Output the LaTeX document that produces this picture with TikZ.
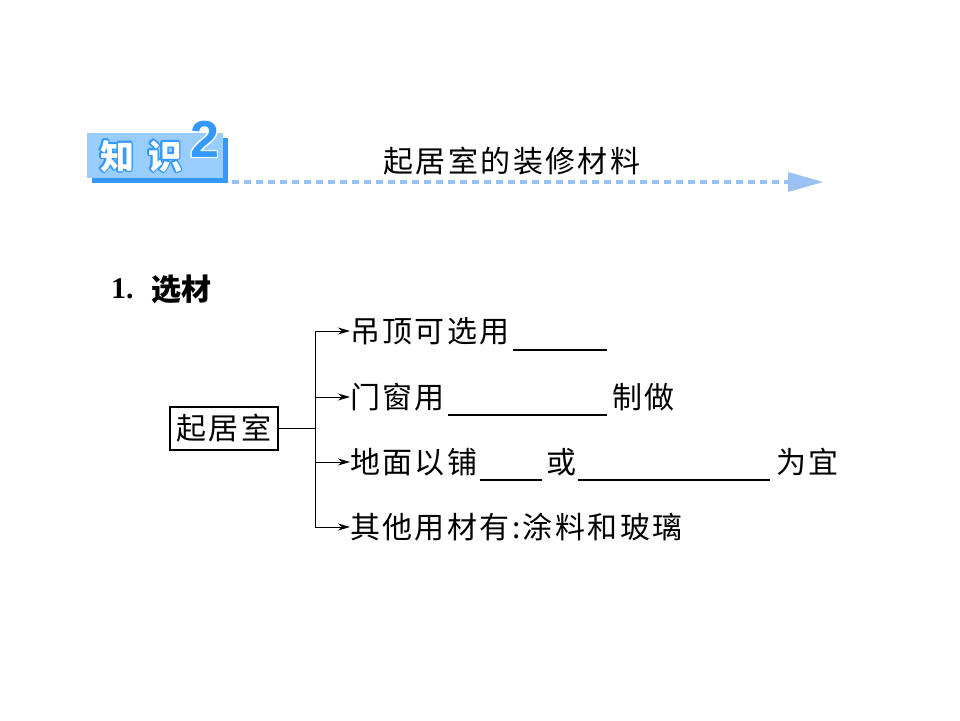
\documentclass[tikz,border=0pt]{standalone}
\usepackage{fontspec}
\setmainfont{Liberation Serif}
\newfontfamily\cjk{Noto Sans CJK SC}
\newfontfamily\cjkr{Noto Sans CJK SC}[LetterSpace=8]
\newfontfamily\numsans{Liberation Sans}
\usepackage{contour}
\usetikzlibrary{arrows.meta}
\definecolor{lb}{HTML}{99CCFF}
\definecolor{db}{HTML}{3399FF}
\definecolor{dashc}{HTML}{99C2F2}
\contourlength{1.4pt}
\begin{document}
\begin{tikzpicture}[x=1pt,y=-1pt,
  rowtext/.style={anchor=west,inner sep=0pt,font=\fontsize{30}{32}\selectfont\cjkr},
  branch/.style={line width=1pt,-{Stealth[length=12pt,width=7pt]}},
  blank/.style={line width=1.1pt},
  conn/.style={line width=1pt}]
\useasboundingbox[fill=white] (0,0) rectangle (960,720);
% header badge
\fill[db] (92,138) rectangle (228,183);
\node[fill=lb,minimum width=136pt,minimum height=45pt,anchor=north west,inner sep=0pt] (badge) at (87,133) {};
\node (zhi) at (117,157) {\fontsize{34}{36}\selectfont\cjk\bfseries\contour{db}{\color{white}知}};
\node (shi) at (165,157) {\fontsize{34}{36}\selectfont\cjk\bfseries\contour{db}{\color{white}识}};
\node (two) at (205,140) {\fontsize{52}{54}\selectfont\numsans\bfseries\contour{white}{\color{db}2}};
% dashed arrow
\coordinate (ds) at (232,182);
\coordinate (de) at (790,182);
\draw[dashc,line width=4pt,dash pattern=on 7pt off 5pt] (ds) -- (de);
\fill[dashc] (788,172) -- (823,182) -- (788,192) -- cycle;
\node (title) at (512,161) {\fontsize{30}{32}\selectfont\cjkr 起居室的装修材料};
% section
\node[anchor=west,inner sep=0pt] (num) at (111,289) {\fontsize{30}{32}\selectfont\bfseries 1.};
\node[anchor=west,inner sep=0pt] (xc) at (151,289) {\fontsize{30}{32}\selectfont\cjk\bfseries 选材};
% tree
\node[draw,line width=1.1pt,minimum width=108pt,minimum height=43pt,inner sep=0pt,font=\fontsize{30}{32}\selectfont\cjkr] (room) at (224,428.5) {起居室};
\coordinate (junc) at (315,428.5);
\node[rowtext] (r1) at (350,331) {吊顶可选用};
\node[rowtext] (r2) at (350,397) {门窗用};
\node[rowtext] (r3) at (350,462) {地面以铺};
\node[rowtext] (r4) at (350,527) {其他用材有:涂料和玻璃};
\node[rowtext] (r2b) at (612,397) {制做};
\node[rowtext] (r3b) at (546,462) {或};
\node[rowtext] (r3c) at (776,462) {为宜};
\coordinate (b1) at (r1.west -| junc);
\coordinate (b2) at (r2.west -| junc);
\coordinate (b3) at (r3.west -| junc);
\coordinate (b4) at (r4.west -| junc);
\draw[conn] (room.east) -- (junc);
\draw[conn] (b1) -- (b4);
\draw[branch] (b1) -- (r1.west);
\draw[branch] (b2) -- (r2.west);
\draw[branch] (b3) -- (r3.west);
\draw[branch] (b4) -- (r4.west);
% blanks
\coordinate (u1a) at (513,350); \coordinate (u1b) at (607,350);
\coordinate (u2a) at (448,415); \coordinate (u2b) at (607,415);
\coordinate (u3a) at (480,480); \coordinate (u3b) at (542,480);
\coordinate (u4a) at (578,480); \coordinate (u4b) at (770,480);
\draw[blank] (u1a) -- (u1b);
\draw[blank] (u2a) -- (u2b);
\draw[blank] (u3a) -- (u3b);
\draw[blank] (u4a) -- (u4b);
\end{tikzpicture}
\end{document}
